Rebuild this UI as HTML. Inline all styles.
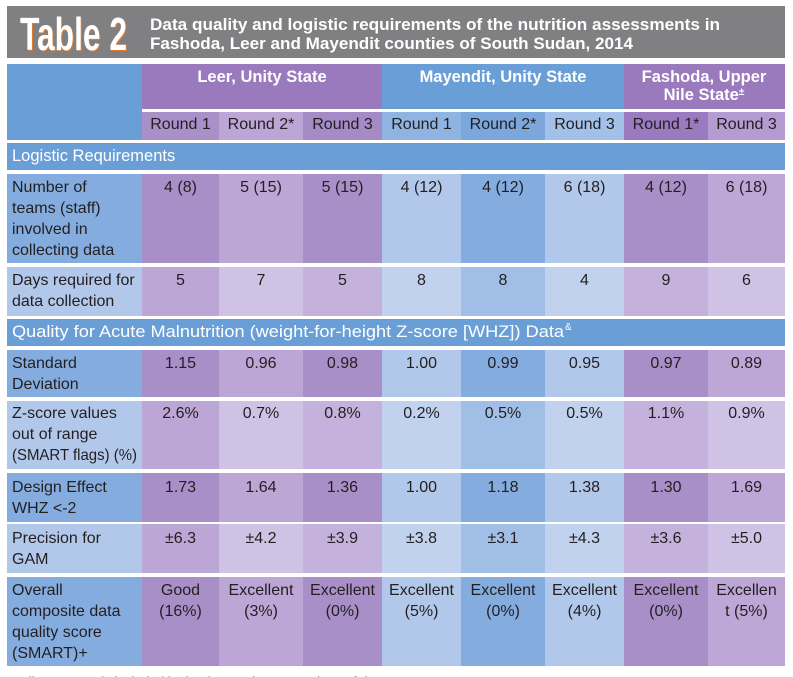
<!DOCTYPE html>
<html><head><meta charset="utf-8"><style>
html,body{margin:0;padding:0;background:#fff;}
svg{display:block;}
text{font-family:"Liberation Sans",sans-serif;}
.t{font-size:16px;fill:#231f20;}
.c{text-anchor:middle;}
.w{fill:#fff;font-weight:bold;}
</style></head><body>
<svg width="793" height="677" viewBox="0 0 793 677" xmlns="http://www.w3.org/2000/svg">
<rect width="793" height="677" fill="#fff"/>
<!-- title bar -->
<rect x="7" y="6" width="778" height="52" fill="#808083"/>
<text x="21" y="51" font-size="46" font-weight="bold" fill="#e07a2c" textLength="107" lengthAdjust="spacingAndGlyphs">Table 2</text>
<text x="20" y="50" font-size="46" font-weight="bold" fill="#fff" textLength="107" lengthAdjust="spacingAndGlyphs">Table 2</text>
<text x="150" y="30" font-size="17" font-weight="bold" fill="#fff" textLength="570" lengthAdjust="spacingAndGlyphs">Data quality and logistic requirements of the nutrition assessments in</text>
<text x="150" y="49" font-size="17" font-weight="bold" fill="#fff" textLength="483" lengthAdjust="spacingAndGlyphs">Fashoda, Leer and Mayendit counties of South Sudan, 2014</text>

<!-- header -->
<rect x="7" y="64" width="778" height="76" fill="#6a9ed6"/>
<rect x="142" y="64" width="240" height="45" fill="#9a7abd"/>
<rect x="624" y="64" width="161" height="45" fill="#9a7abd"/>
<rect x="142" y="109" width="643" height="3" fill="#fff"/>
<rect x="142" y="112" width="77" height="28" fill="#a990c9"/>
<rect x="219" y="112" width="84" height="28" fill="#bba6d6"/>
<rect x="303" y="112" width="79" height="28" fill="#a58bc6"/>
<rect x="382" y="112" width="79" height="28" fill="#8fb4e2"/>
<rect x="461" y="112" width="84" height="28" fill="#7ba7dc"/>
<rect x="545" y="112" width="79" height="28" fill="#a3c0e8"/>
<rect x="624" y="112" width="84" height="28" fill="#9b7bbf"/>
<rect x="708" y="112" width="77" height="28" fill="#b49bd1"/>
<text class="w c" x="262" y="82" font-size="16.5">Leer, Unity State</text>
<text class="w c" x="503" y="82" font-size="16.5">Mayendit, Unity State</text>
<text class="w c" x="704" y="82" font-size="16.5">Fashoda, Upper</text>
<text class="w c" x="704" y="100" font-size="16.5">Nile State<tspan font-size="10" dy="-5">±</tspan></text>
<g class="t c">
<text class="t c" x="180.5" y="129">Round 1</text>
<text class="t c" x="261" y="129">Round 2*</text>
<text class="t c" x="342.5" y="129">Round 3</text>
<text class="t c" x="421.5" y="129">Round 1</text>
<text class="t c" x="503" y="129">Round 2*</text>
<text class="t c" x="584.5" y="129">Round 3</text>
<text class="t c" x="666" y="129">Round 1*</text>
<text class="t c" x="746.5" y="129">Round 3</text>
</g>

<!-- Logistic Requirements -->
<rect x="7" y="143" width="778" height="27" fill="#6a9ed6"/>
<text x="12" y="161" font-size="16.5" fill="#fff">Logistic Requirements</text>

<!-- dark row template colors -->
<!-- Row A teams -->
<g>
<rect x="7" y="174" width="135" height="89" fill="#84acdf"/>
<rect x="142" y="174" width="77" height="89" fill="#a98fc8"/>
<rect x="219" y="174" width="84" height="89" fill="#bba6d6"/>
<rect x="303" y="174" width="79" height="89" fill="#a98fc8"/>
<rect x="382" y="174" width="79" height="89" fill="#b2c8ea"/>
<rect x="461" y="174" width="84" height="89" fill="#84acdf"/>
<rect x="545" y="174" width="79" height="89" fill="#b2c8ea"/>
<rect x="624" y="174" width="84" height="89" fill="#a98fc8"/>
<rect x="708" y="174" width="77" height="89" fill="#bca7d6"/>
<text class="t" x="12" y="192">Number of</text>
<text class="t" x="12" y="213">teams (staff)</text>
<text class="t" x="12" y="234">involved in</text>
<text class="t" x="12" y="255">collecting data</text>
<text class="t c" x="180.5" y="192">4 (8)</text>
<text class="t c" x="261" y="192">5 (15)</text>
<text class="t c" x="342.5" y="192">5 (15)</text>
<text class="t c" x="421.5" y="192">4 (12)</text>
<text class="t c" x="503" y="192">4 (12)</text>
<text class="t c" x="584.5" y="192">6 (18)</text>
<text class="t c" x="666" y="192">4 (12)</text>
<text class="t c" x="746.5" y="192">6 (18)</text>
</g>

<!-- Row B days -->
<g>
<rect x="7" y="267" width="135" height="49" fill="#b2c8ea"/>
<rect x="142" y="267" width="77" height="49" fill="#bba6d6"/>
<rect x="219" y="267" width="84" height="49" fill="#d0c2e4"/>
<rect x="303" y="267" width="79" height="49" fill="#c4b2dc"/>
<rect x="382" y="267" width="79" height="49" fill="#c0d2ee"/>
<rect x="461" y="267" width="84" height="49" fill="#a1bfe6"/>
<rect x="545" y="267" width="79" height="49" fill="#c0d2ee"/>
<rect x="624" y="267" width="84" height="49" fill="#c4b2dc"/>
<rect x="708" y="267" width="77" height="49" fill="#d0c2e4"/>
<text class="t" x="12" y="285">Days required for</text>
<text class="t" x="12" y="306">data collection</text>
<text class="t c" x="180.5" y="285">5</text>
<text class="t c" x="261" y="285">7</text>
<text class="t c" x="342.5" y="285">5</text>
<text class="t c" x="421.5" y="285">8</text>
<text class="t c" x="503" y="285">8</text>
<text class="t c" x="584.5" y="285">4</text>
<text class="t c" x="666" y="285">9</text>
<text class="t c" x="746.5" y="285">6</text>
</g>

<!-- Quality header -->
<rect x="7" y="319" width="778" height="27" fill="#6a9ed6"/>
<text x="12" y="337" font-size="16.5" fill="#fff" textLength="552" lengthAdjust="spacingAndGlyphs">Quality for Acute Malnutrition (weight-for-height Z-score [WHZ]) Data</text>
<text x="565" y="330" font-size="10" fill="#fff">&amp;</text>

<!-- Row C SD -->
<g>
<rect x="7" y="350" width="135" height="47" fill="#84acdf"/>
<rect x="142" y="350" width="77" height="47" fill="#a98fc8"/>
<rect x="219" y="350" width="84" height="47" fill="#bba6d6"/>
<rect x="303" y="350" width="79" height="47" fill="#a98fc8"/>
<rect x="382" y="350" width="79" height="47" fill="#b2c8ea"/>
<rect x="461" y="350" width="84" height="47" fill="#84acdf"/>
<rect x="545" y="350" width="79" height="47" fill="#b2c8ea"/>
<rect x="624" y="350" width="84" height="47" fill="#a98fc8"/>
<rect x="708" y="350" width="77" height="47" fill="#bca7d6"/>
<text class="t" x="12" y="368">Standard</text>
<text class="t" x="12" y="389">Deviation</text>
<text class="t c" x="180.5" y="368">1.15</text>
<text class="t c" x="261" y="368">0.96</text>
<text class="t c" x="342.5" y="368">0.98</text>
<text class="t c" x="421.5" y="368">1.00</text>
<text class="t c" x="503" y="368">0.99</text>
<text class="t c" x="584.5" y="368">0.95</text>
<text class="t c" x="666" y="368">0.97</text>
<text class="t c" x="746.5" y="368">0.89</text>
</g>

<!-- Row D Z-score -->
<g>
<rect x="7" y="401" width="135" height="68" fill="#b2c8ea"/>
<rect x="142" y="401" width="77" height="68" fill="#bba6d6"/>
<rect x="219" y="401" width="84" height="68" fill="#d0c2e4"/>
<rect x="303" y="401" width="79" height="68" fill="#c4b2dc"/>
<rect x="382" y="401" width="79" height="68" fill="#c0d2ee"/>
<rect x="461" y="401" width="84" height="68" fill="#a1bfe6"/>
<rect x="545" y="401" width="79" height="68" fill="#c0d2ee"/>
<rect x="624" y="401" width="84" height="68" fill="#c4b2dc"/>
<rect x="708" y="401" width="77" height="68" fill="#d0c2e4"/>
<text class="t" x="12" y="418">Z-score values</text>
<text class="t" x="12" y="439">out of range</text>
<text class="t" x="12" y="460" textLength="125" lengthAdjust="spacingAndGlyphs">(SMART flags) (%)</text>
<text class="t c" x="180.5" y="418">2.6%</text>
<text class="t c" x="261" y="418">0.7%</text>
<text class="t c" x="342.5" y="418">0.8%</text>
<text class="t c" x="421.5" y="418">0.2%</text>
<text class="t c" x="503" y="418">0.5%</text>
<text class="t c" x="584.5" y="418">0.5%</text>
<text class="t c" x="666" y="418">1.1%</text>
<text class="t c" x="746.5" y="418">0.9%</text>
</g>

<!-- Row E Design effect -->
<g>
<rect x="7" y="473" width="135" height="49" fill="#84acdf"/>
<rect x="142" y="473" width="77" height="49" fill="#a98fc8"/>
<rect x="219" y="473" width="84" height="49" fill="#bba6d6"/>
<rect x="303" y="473" width="79" height="49" fill="#a98fc8"/>
<rect x="382" y="473" width="79" height="49" fill="#b2c8ea"/>
<rect x="461" y="473" width="84" height="49" fill="#84acdf"/>
<rect x="545" y="473" width="79" height="49" fill="#b2c8ea"/>
<rect x="624" y="473" width="84" height="49" fill="#a98fc8"/>
<rect x="708" y="473" width="77" height="49" fill="#bca7d6"/>
<text class="t" x="12" y="492">Design Effect</text>
<text class="t" x="12" y="513">WHZ &lt;-2</text>
<text class="t c" x="180.5" y="492">1.73</text>
<text class="t c" x="261" y="492">1.64</text>
<text class="t c" x="342.5" y="492">1.36</text>
<text class="t c" x="421.5" y="492">1.00</text>
<text class="t c" x="503" y="492">1.18</text>
<text class="t c" x="584.5" y="492">1.38</text>
<text class="t c" x="666" y="492">1.30</text>
<text class="t c" x="746.5" y="492">1.69</text>
</g>

<!-- Row F Precision -->
<g>
<rect x="7" y="524" width="135" height="49" fill="#b2c8ea"/>
<rect x="142" y="524" width="77" height="49" fill="#bba6d6"/>
<rect x="219" y="524" width="84" height="49" fill="#d0c2e4"/>
<rect x="303" y="524" width="79" height="49" fill="#c4b2dc"/>
<rect x="382" y="524" width="79" height="49" fill="#c0d2ee"/>
<rect x="461" y="524" width="84" height="49" fill="#a1bfe6"/>
<rect x="545" y="524" width="79" height="49" fill="#c0d2ee"/>
<rect x="624" y="524" width="84" height="49" fill="#c4b2dc"/>
<rect x="708" y="524" width="77" height="49" fill="#d0c2e4"/>
<text class="t" x="12" y="543">Precision for</text>
<text class="t" x="12" y="564">GAM</text>
<text class="t c" x="180.5" y="543">±6.3</text>
<text class="t c" x="261" y="543">±4.2</text>
<text class="t c" x="342.5" y="543">±3.9</text>
<text class="t c" x="421.5" y="543">±3.8</text>
<text class="t c" x="503" y="543">±3.1</text>
<text class="t c" x="584.5" y="543">±4.3</text>
<text class="t c" x="666" y="543">±3.6</text>
<text class="t c" x="746.5" y="543">±5.0</text>
</g>

<!-- Row G Overall -->
<g>
<rect x="7" y="577" width="135" height="89" fill="#84acdf"/>
<rect x="142" y="577" width="77" height="89" fill="#a98fc8"/>
<rect x="219" y="577" width="84" height="89" fill="#bba6d6"/>
<rect x="303" y="577" width="79" height="89" fill="#a98fc8"/>
<rect x="382" y="577" width="79" height="89" fill="#b2c8ea"/>
<rect x="461" y="577" width="84" height="89" fill="#84acdf"/>
<rect x="545" y="577" width="79" height="89" fill="#b2c8ea"/>
<rect x="624" y="577" width="84" height="89" fill="#a98fc8"/>
<rect x="708" y="577" width="77" height="89" fill="#bca7d6"/>
<text class="t" x="12" y="595">Overall</text>
<text class="t" x="12" y="616">composite data</text>
<text class="t" x="12" y="637">quality score</text>
<text class="t" x="12" y="658">(SMART)+</text>
<text class="t c" x="180.5" y="595">Good</text>
<text class="t c" x="180.5" y="616">(16%)</text>
<text class="t c" x="261" y="595">Excellent</text>
<text class="t c" x="261" y="616">(3%)</text>
<text class="t c" x="342.5" y="595">Excellent</text>
<text class="t c" x="342.5" y="616">(0%)</text>
<text class="t c" x="421.5" y="595">Excellent</text>
<text class="t c" x="421.5" y="616">(5%)</text>
<text class="t c" x="503" y="595">Excellent</text>
<text class="t c" x="503" y="616">(0%)</text>
<text class="t c" x="584.5" y="595">Excellent</text>
<text class="t c" x="584.5" y="616">(4%)</text>
<text class="t c" x="666" y="595">Excellent</text>
<text class="t c" x="666" y="616">(0%)</text>
<text class="t c" x="746.5" y="595">Excellen</text>
<text class="t c" x="746.5" y="616">t (5%)</text>
</g>

<!-- footnote (cut off) -->
<text x="8" y="686" font-size="13" fill="#231f20" textLength="378" lengthAdjust="spacingAndGlyphs">*Indicates rounds included in the time-series comparison of data</text>
</svg>
</body></html>
